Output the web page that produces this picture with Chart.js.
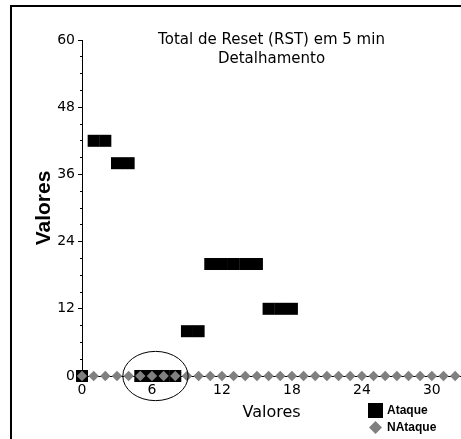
<!DOCTYPE html>
<html>
<head>
<meta charset="utf-8">
<script src="https://cdn.jsdelivr.net/npm/chart.js@4.4.1/dist/chart.umd.min.js"></script>
<style>
  html, body { margin: 0; padding: 0; background: #fff; overflow: hidden; }
  #wrap { position: relative; width: 461px; height: 439px; overflow: hidden; }
  #frame { position: absolute; left: 10px; top: 5px; width: 520px; height: 520px; border: 2px solid #000; }
  #chart { position: absolute; left: 0; top: 0; }
</style>
</head>
<body>
<div id="wrap">
  <div id="frame"></div>
  <canvas id="chart" width="461" height="439"></canvas>
</div>
<script>
const titleLines = ['Total de Reset (RST) em 5 min', 'Detalhamento'];
const axisTitle = 'Valores';
const seriesNames = ['Ataque', 'NAtaque'];

const ataqueX = [0, 1, 2, 3, 4, 5, 6, 7, 8, 9, 10, 11, 12, 13, 14, 15, 16, 17, 18];
const ataqueY = [0, 42, 42, 38, 38, 0, 0, 0, 0, 8, 8, 20, 20, 20, 20, 20, 12, 12, 12];

const nAtaqueX = [0, 1, 2, 3, 4, 5, 6, 7, 8, 9, 10, 11, 12, 13, 14, 15, 16,
  17, 18, 19, 20, 21, 22, 23, 24, 25, 26, 27, 28, 29, 30, 31, 32, 33];
const nAtaqueY = [0, 0, 0, 0, 0, 0, 0, 0, 0, 0, 0, 0, 0, 0, 0, 0, 0,
  0, 0, 0, 0, 0, 0, 0, 0, 0, 0, 0, 0, 0, 0, 0, 0, 0];

const xTickLabels = [0, 6, 12, 18, 24, 30];
const yTickLabels = [0, 12, 24, 36, 48, 60];

// ring drawn around the zero run of the Ataque series (data units)
const highlight = { x: 6.3, y: 0, rx: 2.8, ry: 4.4 };

Chart.defaults.color = '#000000';
Chart.defaults.font.family = '"DejaVu Sans", sans-serif';

function toPoints(xs, ys) {
  return xs.map((x, i) => ({ x: x, y: ys[i] }));
}

const highlightRing = {
  id: 'highlightRing',
  afterDatasetsDraw(chart) {
    const { ctx, scales: { x, y } } = chart;
    const cx = x.getPixelForValue(highlight.x);
    const cy = y.getPixelForValue(highlight.y);
    const rx = Math.abs(x.getPixelForValue(highlight.x + highlight.rx) - cx);
    const ry = Math.abs(y.getPixelForValue(highlight.y + highlight.ry) - cy);
    ctx.save();
    ctx.strokeStyle = '#000';
    ctx.lineWidth = 1;
    ctx.beginPath();
    ctx.ellipse(cx, cy, rx, ry, 0, 0, Math.PI * 2);
    ctx.stroke();
    ctx.restore();
  }
};

// small stacked legend in the lower right corner, under the x axis
const cornerLegend = {
  id: 'cornerLegend',
  afterDraw(chart) {
    const ctx = chart.ctx;
    const markX = 375.5;
    const textX = 387;
    ctx.save();
    ctx.font = 'bold 12px "Liberation Sans", Arial, sans-serif';
    ctx.textBaseline = 'middle';
    ctx.textAlign = 'left';
    chart.data.datasets.forEach((ds, i) => {
      const cy = 410.5 + i * 17;
      ctx.fillStyle = ds.backgroundColor;
      ctx.beginPath();
      if (ds.pointStyle === 'rect') {
        ctx.rect(markX - 7.5, cy - 7.5, 15, 15);
      } else {
        ctx.moveTo(markX - 6.5, cy);
        ctx.lineTo(markX, cy - 6.5);
        ctx.lineTo(markX + 6.5, cy);
        ctx.lineTo(markX, cy + 6.5);
        ctx.closePath();
      }
      ctx.fill();
      ctx.fillStyle = '#000';
      ctx.fillText(ds.label, textX, cy);
    });
    ctx.restore();
  }
};

const ctx = document.getElementById('chart').getContext('2d');
new Chart(ctx, {
  type: 'scatter',
  data: {
    datasets: [{
      label: seriesNames[0],
      data: toPoints(ataqueX, ataqueY),
      pointStyle: 'rect',
      backgroundColor: '#000000',
      borderColor: '#000000',
      pointRadius: 8.5,
      pointBorderWidth: 0,
      clip: false,
      order: 1
    }, {
      label: seriesNames[1],
      data: toPoints(nAtaqueX, nAtaqueY),
      pointStyle: 'rectRot',
      backgroundColor: '#808080',
      borderColor: '#808080',
      pointRadius: 5.2,
      pointBorderWidth: 0,
      clip: false,
      order: 0
    }]
  },
  options: {
    responsive: false,
    animation: false,
    devicePixelRatio: 1,
    layout: { padding: 0, autoPadding: false },
    events: [],
    plugins: {
      legend: { display: false },
      tooltip: { enabled: false },
      title: {
        display: true,
        text: titleLines,
        fullSize: false,
        color: '#000',
        font: { size: 15, weight: 'normal', lineHeight: 1.3 },
        padding: { top: 30.25, bottom: -29.25 }
      }
    },
    scales: {
      x: {
        type: 'linear',
        min: 0,
        max: 32.5,
        afterBuildTicks: scale => {
          scale.ticks = xTickLabels.map(v => ({ value: v }));
        },
        afterFit: scale => { scale.height = 63; },
        ticks: {
          autoSkip: false,
          maxRotation: 0,
          padding: 6,
          font: { size: 14 }
        },
        grid: { drawOnChartArea: false, drawTicks: false },
        border: { color: '#000', width: 1 },
        title: {
          display: true,
          text: axisTitle,
          font: { size: 16 },
          padding: { top: 0, bottom: 17 }
        }
      },
      y: {
        min: 0,
        max: 60,
        afterFit: scale => { scale.width = 82; },
        ticks: {
          stepSize: 3,
          autoSkip: false,
          padding: 3,
          font: { size: 14 },
          callback: value => (yTickLabels.includes(value) ? value : '')
        },
        grid: {
          drawOnChartArea: false,
          drawTicks: true,
          tickLength: 4,
          tickColor: '#000',
          tickBorderDash: ctx => (yTickLabels.includes(ctx.tick.value) ? [] : [0, 2, 2])
        },
        border: { color: '#000', width: 1 },
        title: {
          display: true,
          text: axisTitle,
          font: { family: '"Liberation Sans", Arial, sans-serif', size: 21, weight: 'bold' },
          padding: { top: 31.4, bottom: 0 }
        }
      }
    }
  },
  plugins: [highlightRing, cornerLegend]
});
</script>
</body>
</html>
